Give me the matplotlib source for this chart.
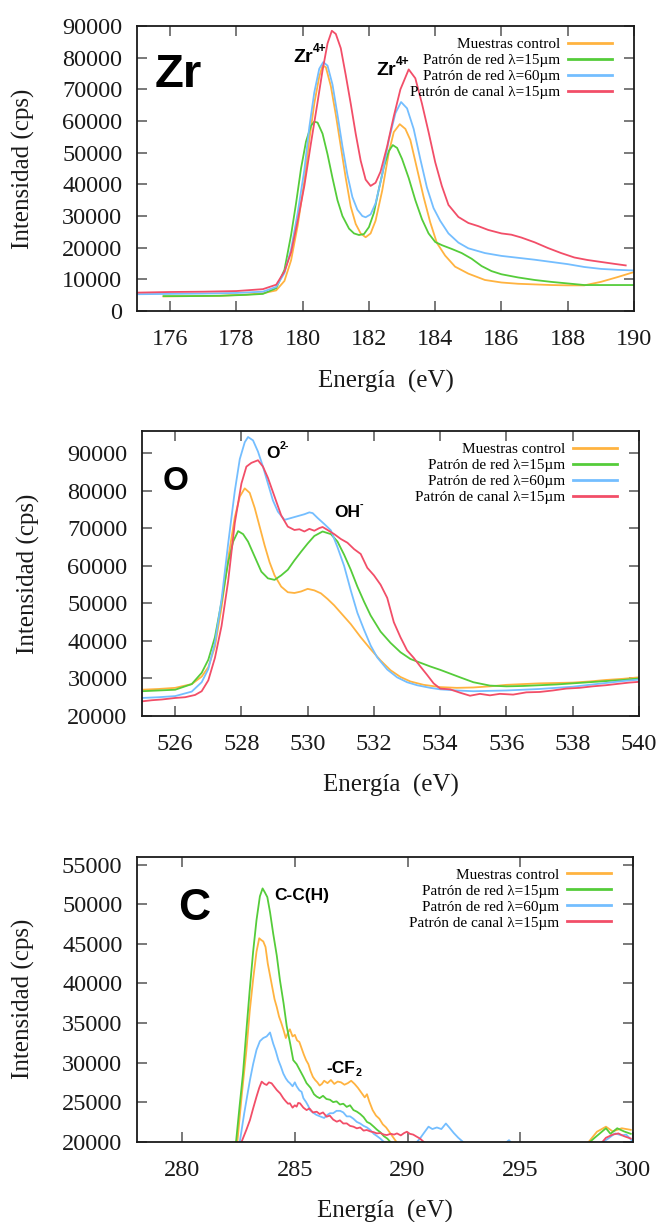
import matplotlib
matplotlib.use("Agg")
import matplotlib.pyplot as plt

plt.rcParams["font.family"] = ["Liberation Serif", "DejaVu Serif"]
plt.rcParams["axes.unicode_minus"] = False

SANS = ["Liberation Sans", "DejaVu Sans"]

series_names = ["Muestras control", "Patrón de red λ=15µm",
                "Patrón de red λ=60µm", "Patrón de canal λ=15µm"]
series_colors = ["#FFB340", "#55CC3A", "#74BEFF", "#F24E68"]

# ---- Zr 3d ----
zr_control_e = [175.8, 176.5, 177.5, 178.3, 178.8, 179.2, 179.45, 179.65, 179.85, 180.05, 180.2, 180.35, 180.5,
                180.6, 180.7, 180.85, 181.0, 181.15, 181.3, 181.45, 181.6, 181.75, 181.9, 182.05, 182.2, 182.4,
                182.6, 182.75, 182.93, 183.1, 183.25, 183.45, 183.65, 183.85, 184.05, 184.3, 184.6, 185.0, 185.5,
                186.0, 186.5, 187.0, 187.5, 188.0, 188.5, 189.0, 189.5, 190.0]
zr_control_i = [4600, 4700, 4800, 5200, 5600, 6500, 9500, 16000, 27000, 41000, 54000, 65500, 74000,
                77500, 77000, 71000, 62000, 52000, 42000, 33000, 27500, 24500, 23300, 24500, 28500, 38000,
                50000, 56500, 59000, 57500, 54000, 45000, 36000, 28000, 21500, 17500, 14000, 11800, 9800,
                9000, 8600, 8400, 8200, 8100, 8100, 9200, 10700, 12300]

zr_red15_e = [175.8, 176.5, 177.5, 178.3, 178.8, 179.2, 179.45, 179.65, 179.8, 179.95, 180.1, 180.25, 180.35,
              180.45, 180.6, 180.75, 180.9, 181.05, 181.2, 181.4, 181.55, 181.7, 181.85, 182.0, 182.15, 182.3,
              182.45, 182.6, 182.72, 182.85, 183.0, 183.2, 183.4, 183.6, 183.8, 184.0, 184.2, 184.5, 184.8,
              185.1, 185.4, 185.7, 186.0, 186.5, 187.0, 187.5, 188.0, 188.5, 189.0, 190.0]
zr_red15_i = [4700, 4700, 4800, 5100, 5400, 7200, 13000, 24000, 34000, 45000, 53500, 58500, 59800,
              59500, 56000, 49500, 42000, 35000, 30000, 26000, 24500, 24000, 24300, 26500, 31000, 38500,
              45500, 50500, 52400, 51500, 48000, 42000, 35000, 29000, 24500, 21800, 20800, 19600, 18300,
              16500, 14200, 12600, 11600, 10600, 9800, 9200, 8700, 8200, 8200, 8200]

zr_red60_e = [175.0, 176.0, 177.0, 178.0, 178.8, 179.2, 179.45, 179.65, 179.85, 180.05, 180.2, 180.35, 180.5,
              180.62, 180.75, 180.9, 181.05, 181.2, 181.35, 181.5, 181.65, 181.8, 181.9, 182.05, 182.2, 182.4,
              182.6, 182.8, 182.97, 183.15, 183.35, 183.55, 183.75, 183.95, 184.15, 184.4, 184.7, 185.0, 185.5,
              186.0, 186.5, 187.0, 187.5, 188.0, 188.5, 189.0, 189.5, 190.0]
zr_red60_i = [5300, 5400, 5500, 5700, 6100, 7600, 12000, 19500, 31000, 44500, 58000, 69000, 76500,
              78600, 77500, 71500, 62000, 52000, 43000, 36000, 32000, 30000, 29600, 30500, 34000, 43000,
              54000, 62500, 66000, 64000, 57500, 48000, 39000, 32500, 28500, 24500, 21600, 19800, 18300,
              17400, 16800, 16200, 15500, 14800, 13900, 13300, 13000, 12800]

zr_canal_e = [175.0, 176.0, 177.0, 178.0, 178.8, 179.2, 179.45, 179.65, 179.85, 180.05, 180.25, 180.45, 180.6,
              180.75, 180.88, 181.0, 181.15, 181.3, 181.45, 181.6, 181.75, 181.9, 182.05, 182.2, 182.35, 182.55,
              182.75, 182.95, 183.2, 183.4, 183.6, 183.8, 184.0, 184.2, 184.4, 184.7, 185.0, 185.3, 185.6,
              186.0, 186.3, 186.6, 187.0, 187.4, 187.8, 188.2, 188.6, 189.0, 189.4, 189.75]
zr_canal_i = [5800, 6000, 6100, 6300, 6900, 8300, 12500, 18500, 28500, 39500, 53000, 66000, 76000,
              84500, 88500, 87500, 83000, 74500, 65500, 56000, 47500, 41500, 39500, 40500, 44000, 52000,
              61500, 70000, 76300, 73500, 65500, 56500, 47000, 39500, 33500, 29700, 27800, 26800, 25600,
              24500, 24100, 23200, 21700, 19900, 18300, 16900, 16100, 15500, 14900, 14400]

# ---- O 1s ----
o_control_e = [525.0, 525.5, 526.0, 526.5, 526.8, 527.0, 527.2, 527.4, 527.6, 527.8, 527.95, 528.1, 528.25,
               528.4, 528.55, 528.7, 528.85, 529.0, 529.2, 529.4, 529.6, 529.8, 530.0, 530.2, 530.4, 530.6,
               530.8, 531.0, 531.3, 531.6, 531.9, 532.2, 532.5, 532.8, 533.1, 533.5, 534.0, 534.5, 535.0,
               535.5, 536.0, 536.5, 537.0, 537.5, 538.0, 538.5, 539.0, 539.5, 540.0]
o_control_i = [27000, 27200, 27500, 28500, 30500, 33000, 38500, 49000, 62000, 73000, 78500, 80700, 79500,
               75500, 70500, 65500, 61000, 57500, 54500, 53000, 52800, 53200, 53900, 53500, 52700, 51200,
               49500, 47500, 44500, 41000, 37800, 34800, 32200, 30400, 29200, 28300, 27700, 27500, 27600,
               27900, 28300, 28500, 28700, 28800, 28900, 29200, 29600, 29900, 30300]

o_red15_e = [525.0, 525.5, 526.0, 526.5, 526.8, 527.0, 527.2, 527.4, 527.6, 527.75, 527.9, 528.05, 528.2,
             528.4, 528.6, 528.8, 529.0, 529.2, 529.4, 529.6, 529.8, 530.0, 530.2, 530.45, 530.7, 530.9,
             531.1, 531.3, 531.5, 531.7, 531.9, 532.2, 532.5, 532.8, 533.1, 533.4, 533.7, 534.0, 534.3,
             534.6, 535.0, 535.5, 536.0, 536.5, 537.0, 537.5, 538.0, 538.5, 539.0, 539.5, 540.0]
o_red15_i = [26600, 26800, 27000, 28500, 31500, 35000, 41000, 50500, 61000, 66500, 69300, 68500, 66500,
             62500, 58500, 56700, 56300, 57500, 59000, 61500, 63800, 66000, 68000, 69200, 68500, 66500,
             63000, 59000, 54500, 50500, 46800, 42500, 39500, 37000, 35200, 34200, 33200, 32300, 31300,
             30300, 29000, 28100, 27900, 28000, 28200, 28400, 28700, 29000, 29300, 29600, 30000]

o_red60_e = [525.0, 525.5, 526.0, 526.5, 526.8, 527.0, 527.2, 527.4, 527.6, 527.8, 527.95, 528.1, 528.2,
             528.35, 528.5, 528.65, 528.8, 528.95, 529.1, 529.3, 529.5, 529.7, 529.9, 530.05, 530.15, 530.3,
             530.5, 530.7, 530.9, 531.1, 531.3, 531.5, 531.7, 531.9, 532.1, 532.4, 532.7, 533.0, 533.3,
             533.7, 534.0, 534.5, 535.0, 535.5, 536.0, 536.5, 537.0, 537.5, 538.0, 538.5, 539.0, 539.5, 540.0]
o_red60_i = [24800, 25000, 25300, 26500, 29000, 32500, 39500, 51000, 66000, 80000, 88500, 93000, 94400,
             93500, 90500, 86500, 82000, 77500, 74500, 72300, 72800, 73300, 73800, 74300, 74100, 72800,
             71200, 69500, 65000, 60000, 53500, 47500, 43000, 38800, 35600, 32400, 30300, 29000, 28200,
             27500, 27100, 26800, 26600, 26700, 26800, 27000, 27200, 27500, 27800, 28300, 28800, 29300, 29700]

o_canal_e = [525.0, 525.3, 525.6, 526.0, 526.3, 526.6, 526.8, 527.0, 527.2, 527.4, 527.6, 527.8, 528.0,
             528.15, 528.3, 528.5, 528.65, 528.8, 529.0, 529.2, 529.4, 529.6, 529.75, 529.9, 530.05, 530.2,
             530.35, 530.45, 530.6, 530.8, 531.0, 531.2, 531.4, 531.6, 531.8, 532.0, 532.2, 532.4, 532.6,
             532.8, 533.0, 533.2, 533.4, 533.6, 533.8, 534.0, 534.3, 534.6, 534.9, 535.2, 535.5, 535.8,
             536.2, 536.6, 537.0, 537.4, 537.8, 538.2, 538.6, 539.0, 539.4, 539.7, 540.0]
o_canal_i = [23900, 24200, 24400, 24800, 25000, 25600, 26600, 29500, 35500, 44000, 56000, 71500, 82000,
             86500, 87500, 88200, 86500, 83500, 78500, 73500, 70500, 69600, 69800, 69200, 69900, 69400,
             70100, 70400, 69600, 68500, 67200, 66200, 64500, 63200, 59500, 57500, 55000, 51500, 45000,
             41000, 37500, 35500, 33200, 31000, 28700, 27300, 27100, 26200, 25400, 25900, 25500, 25900,
             25700, 26300, 26400, 26800, 27300, 27500, 27900, 28200, 28600, 28900, 29100]

# ---- C 1s ----
c_control_e = [282.2, 282.45, 282.65, 282.85, 283.0, 283.15, 283.3, 283.42, 283.5, 283.6, 283.7, 283.8, 283.9,
               284.0, 284.1, 284.2, 284.3, 284.4, 284.5, 284.6, 284.7, 284.78, 284.9, 285.0, 285.1, 285.2,
               285.3, 285.4, 285.5, 285.6, 285.7, 285.8, 285.9, 286.0, 286.1, 286.2, 286.3, 286.45, 286.6,
               286.75, 286.9, 287.05, 287.2, 287.35, 287.5, 287.65, 287.8, 287.95, 288.1, 288.2, 288.3,
               288.45, 288.6, 288.75, 288.9, 289.05, 289.2, 289.35, 289.5, 289.7,
               297.9, 298.4, 298.8, 299.1, 299.5, 299.9]
c_control_i = [17500, 20000, 26000, 31500, 36500, 40500, 44000, 45700, 45500, 45300, 44600, 42500, 41000,
               39500, 38000, 37000, 35800, 35000, 34100, 33100, 33800, 34200, 33300, 33500, 32800, 32600,
               31800, 31000, 30300, 29800, 28900, 28200, 27800, 27500, 27100, 27300, 27700, 27400, 27800,
               27300, 27600, 27500, 27200, 27400, 27700, 27300, 26800, 26200, 25600, 26000, 25100,
               24000, 23300, 22900, 22200, 21800, 21200, 20600, 20000, 19000,
               19500, 21260, 21900, 21300, 21700, 21500]

c_red15_e = [282.2, 282.4, 282.55, 282.7, 282.85, 283.0, 283.15, 283.3, 283.45, 283.57, 283.67, 283.78, 283.9,
             284.04, 284.2, 284.34, 284.5, 284.64, 284.8, 284.93, 285.08, 285.23, 285.38, 285.52, 285.7,
             285.85, 285.97, 286.1, 286.25, 286.4, 286.56, 286.7, 286.85, 287.0, 287.15, 287.3, 287.45,
             287.6, 287.75, 287.9, 288.05, 288.2, 288.34, 288.5, 288.65, 288.79, 288.95, 289.1, 289.23, 289.4,
             297.9, 298.3, 298.8, 299.0, 299.3, 299.6, 299.9]
c_red15_i = [17000, 20200, 24500, 28600, 34000, 39200, 44000, 48000, 51000, 52000, 51500, 50900, 49000,
             46300, 43500, 40400, 37500, 34600, 32300, 30300, 29800, 29000, 28200, 27400, 26800,
             26000, 25700, 25500, 25800, 25400, 25300, 25000, 25100, 24700, 24800, 24400, 24600,
             24000, 23800, 23500, 23100, 22500, 22300, 21900, 21500, 21200, 20700, 20400, 20000, 19200,
             19500, 20500, 21700, 21000, 21700, 21300, 21000]

c_red60_e = [282.3, 282.56, 282.75, 282.9, 283.01, 283.15, 283.3, 283.45, 283.6, 283.75, 283.9, 284.04, 284.15,
             284.27, 284.38, 284.49, 284.6, 284.7, 284.78, 284.9, 285.0, 285.08, 285.2, 285.3, 285.38, 285.5,
             285.6, 285.67, 285.8, 285.95, 286.12, 286.3, 286.45, 286.56, 286.7, 286.85, 287.01, 287.15,
             287.3, 287.45, 287.6, 287.75, 287.9, 288.05, 288.2, 288.34, 288.5, 288.65, 288.79, 288.94,
             289.2, 289.6, 290.0, 290.3, 290.55, 290.75, 290.93, 291.1, 291.3, 291.5, 291.7, 291.85, 292.05,
             292.25, 292.45, 292.8, 294.2, 294.5, 294.7, 298.4, 298.9, 299.2, 299.5, 299.7, 300.0]
c_red60_i = [17000, 20000, 23500, 26000, 27800, 29800, 31600, 32700, 33100, 33300, 33800, 32400, 31500,
             30300, 29500, 28600, 28000, 27600, 27400, 27000, 27500, 27000, 26500, 26300, 25500, 25000,
             24500, 24000, 23700, 23400, 23200, 23000, 23400, 23600, 23600, 23900, 23900, 23700,
             23200, 23200, 22900, 22500, 22300, 22000, 21800, 21500, 21000, 20700, 20400, 20000,
             19200, 18500, 18800, 19600, 20400, 21200, 21900, 21600, 21800, 21600, 22300, 21800, 21100,
             20500, 20000, 19000, 19500, 20200, 19500, 19500, 20400, 21050, 20800, 20900, 20000]

c_canal_e = [282.4, 282.64, 282.85, 283.01, 283.15, 283.3, 283.42, 283.53, 283.65, 283.75, 283.85, 283.97,
             284.1, 284.2, 284.35, 284.49, 284.6, 284.7, 284.78, 284.9, 285.0, 285.08, 285.15, 285.23,
             285.38, 285.52, 285.65, 285.8, 285.97, 286.1, 286.25, 286.41, 286.55, 286.7, 286.86, 287.0,
             287.15, 287.3, 287.45, 287.6, 287.75, 287.9, 288.05, 288.19, 288.35, 288.5, 288.64, 288.8,
             288.95, 289.08, 289.25, 289.4, 289.53, 289.7, 289.85, 289.97, 290.1, 290.25, 290.41, 290.55,
             290.71, 291.0, 298.5, 298.8, 299.1, 299.35, 299.6, 299.9]
c_canal_i = [18000, 20000, 21500, 22740, 24200, 25690, 26800, 27590, 27300, 27170, 27500, 27380,
             26900, 26530, 26100, 25480, 25100, 24800, 24850, 24300, 24600, 24430, 24900, 24850,
             24300, 24000, 24200, 23700, 23790, 23500, 23700, 23160, 23300, 22800, 22530, 22700,
             22300, 22320, 22000, 21900, 21690, 21800, 21400, 21480, 21300, 21200, 21050, 21100,
             20900, 20840, 21000, 20900, 21050, 20800, 21100, 21260, 21000, 20900, 20630, 20400,
             20000, 19000, 19500, 20500, 20900, 21050, 20700, 20400]

zr_xticks = [176, 178, 180, 182, 184, 186, 188, 190]
zr_yticks = [0, 10000, 20000, 30000, 40000, 50000, 60000, 70000, 80000, 90000]
o_xticks = [526, 528, 530, 532, 534, 536, 538, 540]
o_yticks = [20000, 30000, 40000, 50000, 60000, 70000, 80000, 90000]
c_xticks = [280, 285, 290, 295, 300]
c_yticks = [20000, 25000, 30000, 35000, 40000, 45000, 50000, 55000]


def style_axes(ax, xlim, ylim, xticks, yticks):
    ax.set_xlim(*xlim)
    ax.set_ylim(*ylim)
    ax.set_xticks(xticks)
    ax.set_yticks(yticks)
    ax.set_yticklabels([str(v) for v in yticks])
    ax.tick_params(direction="in", top=True, right=True, length=7.5, width=1.1,
                   color="#555555", labelsize=17.5, labelcolor="#1a1a1a")
    ax.tick_params(axis="x", pad=13)
    ax.tick_params(axis="y", pad=10.5)
    for s in ax.spines.values():
        s.set_linewidth(1.3)
        s.set_color("#1a1a1a")
    ax.set_xlabel("Energía  (eV)", fontsize=18, color="#1a1a1a")
    ax.set_ylabel("Intensidad (cps)", fontsize=18, color="#1a1a1a")
    ax.xaxis.set_label_coords(0.5, -0.205)
    ax.yaxis.set_label_coords(-0.205, 0.5)
    leg = ax.legend(loc="upper right", bbox_to_anchor=(0.956, 0.96), frameon=False, markerfirst=False,
                    fontsize=11, handlelength=2.9, handletextpad=0.5, labelspacing=0.15,
                    borderpad=0, borderaxespad=0)
    for ln in leg.get_lines():
        ln.set_linewidth(2.0)


def ion_label(ax, x, y, base, extra, size, sub=False):
    t = ax.text(x, y, base, fontsize=size, fontweight="bold", family=SANS,
                ha="left", va="baseline", color="black")
    ax.annotate(extra, xy=(1.0, 0.2 if sub else 1.0), xycoords=t, fontsize=size * 0.62,
                fontweight="bold", family=SANS, ha="left", va="center", color="black")


fig = plt.figure(figsize=(6.6, 12.22), dpi=100)
panels = [
    ([0.2076, 0.7455, 0.753, 0.2332], (175, 190), (0, 90000), zr_xticks, zr_yticks,
     [(zr_control_e, zr_control_i), (zr_red15_e, zr_red15_i), (zr_red60_e, zr_red60_i), (zr_canal_e, zr_canal_i)],
     "Zr", 34, (0.036, 0.786)),
    ([0.2152, 0.4141, 0.753, 0.2332], (525, 540), (20000, 96000), o_xticks, o_yticks,
     [(o_control_e, o_control_i), (o_red15_e, o_red15_i), (o_red60_e, o_red60_i), (o_canal_e, o_canal_i)],
     "O", 24, (0.042, 0.793)),
    ([0.2076, 0.0657, 0.7515, 0.2332], (278, 300), (20000, 56000), c_xticks, c_yticks,
     [(c_control_e, c_control_i), (c_red15_e, c_red15_i), (c_red60_e, c_red60_i), (c_canal_e, c_canal_i)],
     "C", 32, (0.083, 0.778)),
]

axes = []
for rect, xlim, ylim, xt, yt, curves, letter, lsize, lpos in panels:
    ax = fig.add_axes(rect)
    for (e, i), name, col in zip(curves, series_names, series_colors):
        ax.plot(e, i, color=col, lw=1.3, label=name)
    style_axes(ax, xlim, ylim, xt, yt)
    ax.text(lpos[0], lpos[1], letter, transform=ax.transAxes, fontsize=lsize, fontweight="bold",
            family=SANS, ha="left", va="baseline", color="black")
    axes.append(ax)

ion_label(axes[0], 179.73, 78700, "Zr", "4+", 14)
ion_label(axes[0], 182.23, 74570, "Zr", "4+", 14)
ion_label(axes[1], 528.76, 88670, "O", "2-", 12.5)
ion_label(axes[1], 530.79, 73140, "OH", "-", 12.5)
ion_label(axes[2], 284.07, 50570, "C-C(H)", "", 12.5)
ion_label(axes[2], 286.41, 28640, "-CF", "2", 12.5, sub=True)

fig.savefig("out.png", dpi=100)
